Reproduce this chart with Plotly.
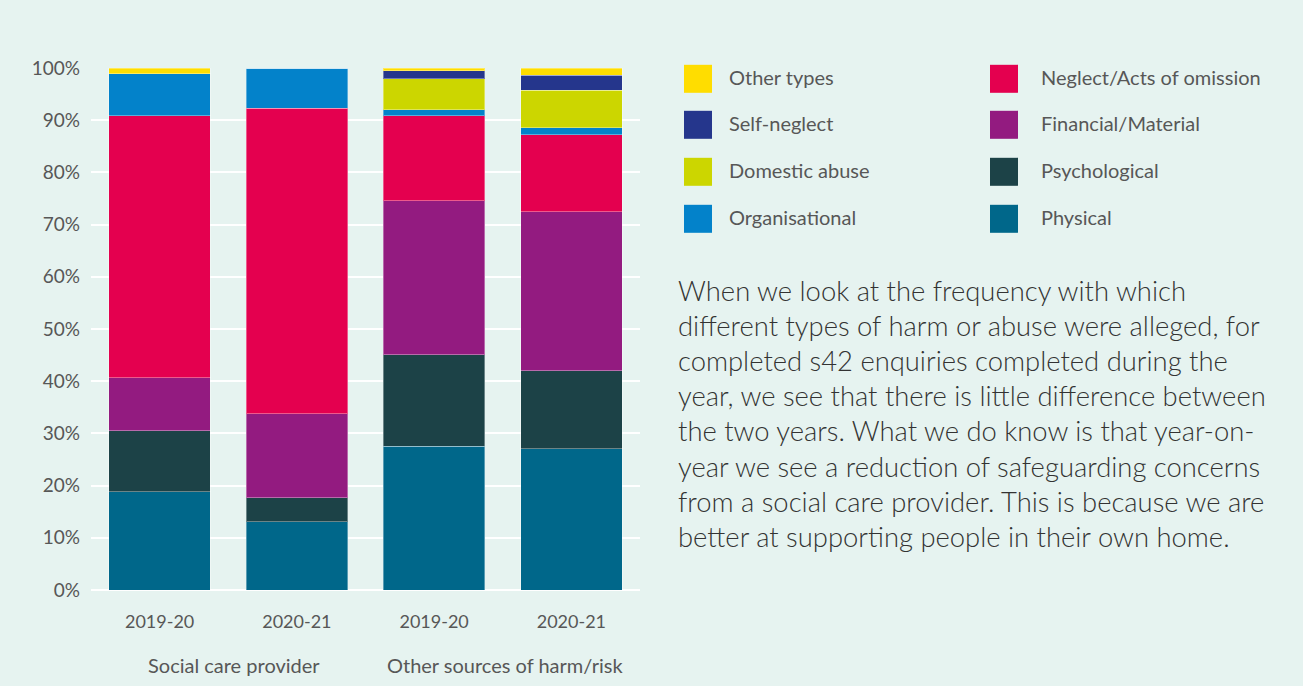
import plotly.graph_objects as go

# ---------------- data ----------------
groups = ["Social care provider", "Other sources of harm/risk"]
group_of_bar = [0, 0, 1, 1]
years = ["2019-20", "2020-21", "2019-20", "2020-21"]
categories = [f"{groups[g]} {y}" for g, y in zip(group_of_bar, years)]

physical = [18.8, 13.1, 27.5, 27.1]
psychological = [11.7, 4.6, 17.6, 14.9]
financial = [10.2, 16.1, 29.5, 30.5]
neglect = [50.2, 58.5, 16.3, 14.7]
organisational = [8.0, 7.7, 1.1, 1.4]
domestic_abuse = [0.0, 0.0, 5.9, 7.1]
self_neglect = [0.0, 0.0, 1.6, 2.9]
other_types = [1.1, 0.0, 0.5, 1.4]

y_ticks = [0, 10, 20, 30, 40, 50, 60, 70, 80, 90, 100]
y_tick_labels = ["0%", "10%", "20%", "30%", "40%", "50%", "60%", "70%", "80%", "90%", "100%"]

paragraph_lines = [
    "When we look at the frequency with which",
    "different types of harm or abuse were alleged, for",
    "completed s42 enquiries completed during the",
    "year, we see that there is little difference between",
    "the two years. What we do know is that year-on-",
    "year we see a reduction of safeguarding concerns",
    "from a social care provider. This is because we are",
    "better at supporting people in their own home.",
]

# stacking order bottom -> top
series = [
    ("Physical", physical, "#00678A"),
    ("Psychological", psychological, "#1C4247"),
    ("Financial/Material", financial, "#931B80"),
    ("Neglect/Acts of omission", neglect, "#E4004F"),
    ("Organisational", organisational, "#0382CA"),
    ("Domestic abuse", domestic_abuse, "#CCD600"),
    ("Self-neglect", self_neglect, "#25368C"),
    ("Other types", other_types, "#FFDD00"),
]
legend_col1 = ["Other types", "Self-neglect", "Domestic abuse", "Organisational"]
legend_col2 = ["Neglect/Acts of omission", "Financial/Material", "Psychological", "Physical"]

# ---------------- layout constants ----------------
W, H = 1303, 686
ML, MR, MT, MB = 91, 663, 68, 96
PW, PH = W - ML - MR, H - MT - MB
BG = "#E6F3F0"
FONT = "Lato"
GREY = "#575757"


def px_x(px):
    return (px - ML) / PW


def px_y(py):
    return (H - MB - py) / PH


fig = go.Figure()
for name, vals, color in series:
    fig.add_trace(go.Bar(
        x=categories, y=vals, name=name,
        marker=dict(color=color, line=dict(color="rgba(255,255,255,0.35)", width=1)),
        showlegend=False,
    ))

colors = {n: c for n, _, c in series}
shapes, annotations = [], []
row_y = [78.8, 124.8, 171.8, 218.8]
for names, sq_x, txt_x in [(legend_col1, 684, 728), (legend_col2, 990, 1040)]:
    for i, n in enumerate(names):
        cy = row_y[i]
        shapes.append(dict(type="rect", xref="paper", yref="paper",
                           x0=px_x(sq_x), x1=px_x(sq_x + 28),
                           y0=px_y(cy + 14), y1=px_y(cy - 14),
                           fillcolor=colors[n], line=dict(width=0), layer="above"))
        annotations.append(dict(text=n, xref="paper", yref="paper",
                                x=px_x(txt_x - 1), y=px_y(cy - 1.5), xanchor="left", yanchor="middle",
                                showarrow=False, font=dict(family=FONT, size=20, color=GREY)))

# group labels under the year labels
group_centres = [233.7, 505.6]
for g, cx in zip(groups, group_centres):
    annotations.append(dict(text=g, xref="paper", yref="paper",
                            x=px_x(cx), y=px_y(665), xanchor="center", yanchor="middle",
                            showarrow=False, font=dict(family=FONT, size=20, color=GREY)))

for i, line in enumerate(paragraph_lines):
    annotations.append(dict(text=line, xref="paper", yref="paper",
                            x=px_x(676), y=px_y(290.5 + i * 35.1), xanchor="left", yanchor="middle",
                            showarrow=False,
                            font=dict(family=FONT, size=27.4, color="#333333", weight=300)))

fig.update_layout(
    width=W, height=H,
    margin=dict(l=ML, r=MR, t=MT, b=MB, pad=0),
    paper_bgcolor=BG, plot_bgcolor=BG,
    barmode="stack", bargap=0.26,
    font=dict(family=FONT, size=18, color=GREY),
    shapes=shapes, annotations=annotations,
    xaxis=dict(type="category", tickvals=categories, ticktext=years,
               showgrid=False, ticks="", showline=False, ticklabelstandoff=19,
               tickfont=dict(family=FONT, size=18, color=GREY)),
    yaxis=dict(range=[0, 100], tickvals=y_ticks, ticktext=y_tick_labels,
               showgrid=True, gridcolor="#FFFFFF", gridwidth=2,
               zeroline=True, zerolinecolor="#FFFFFF", zerolinewidth=2,
               ticks="", ticklabelstandoff=10,
               tickfont=dict(family=FONT, size=19, color=GREY)),
)

fig.write_html("out.html")
